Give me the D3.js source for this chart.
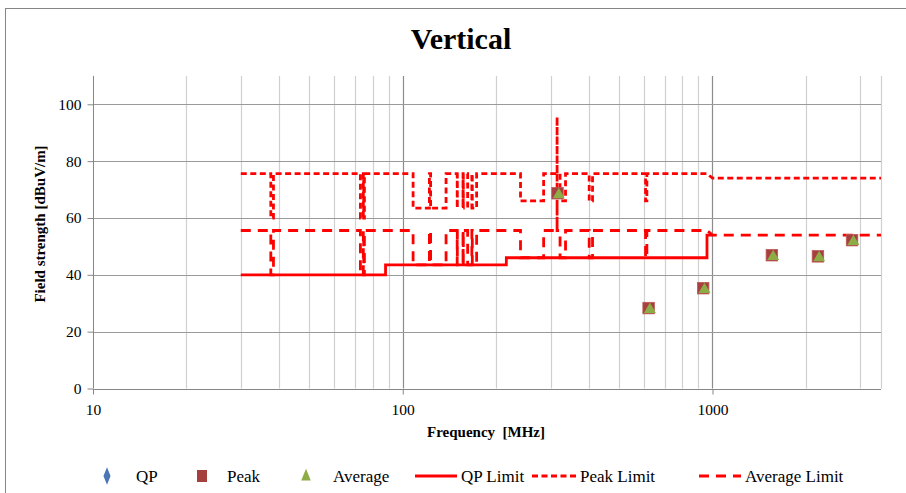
<!DOCTYPE html>
<html>
<head>
<meta charset="utf-8">
<script src="https://cdn.jsdelivr.net/npm/d3@7"></script>
<style>
  html, body { margin: 0; padding: 0; background: #fff; }
  svg { display: block; }
  text { font-family: "Liberation Serif", "Times New Roman", serif; fill: #000; }
</style>
</head>
<body>
<svg id="chart" width="906" height="493"></svg>
<script>
// Frequency axis (MHz, log) and field-strength axis (dBuV/m)
const xTickValues = [10, 100, 1000];
const xGridValues = [20, 30, 40, 50, 60, 70, 80, 90, 200, 300, 400, 500, 600, 700, 800, 900, 2000, 3000];
const yTickValues = [0, 20, 40, 60, 80, 100];

// Measured emissions
const qpFreq = [];
const qpLevel = [];
const peakFreq = [316, 622, 933, 1555, 2190, 2822];
const peakLevel = [68.7, 28.3, 35.3, 46.9, 46.5, 52.2];
const avgFreq = [319, 628, 942, 1570, 2210, 2850];
const avgLevel = [68.2, 27.8, 34.8, 46.4, 46.0, 51.7];

// Limit lines as [frequency, level] vertices
const qpLimit = [[30,40],[88,40],[88,43.5],[216,43.5],[216,46],[960,46],[960,54],[1000,54]];

const peakLimit = [
  [30,75.6],[37.5,75.6],[37.5,60],[38.25,60],[38.25,75.6],
  [73,75.6],[73,60],[74.6,60],[74.6,75.6],[74.8,75.6],[74.8,60],[75.2,60],[75.2,75.6],
  [108,75.6],[108,63.5],[121.94,63.5],[121.94,75.6],[123,75.6],[123,63.5],[138,63.5],[138,75.6],
  [149.9,75.6],[149.9,63.5],[150.05,63.5],[150.05,75.6],
  [156.52475,75.6],[156.52475,63.5],[156.52525,63.5],[156.52525,75.6],
  [156.7,75.6],[156.7,63.5],[156.9,63.5],[156.9,75.6],
  [162.0125,75.6],[162.0125,63.5],[167.17,63.5],[167.17,75.6],
  [167.72,75.6],[167.72,63.5],[173.2,63.5],[173.2,75.6],
  [240,75.6],[240,66],[285,66],[285,75.6],
  [315,75.6],[315,95.6],[315,75.6],
  [322,75.6],[322,66],[335.4,66],[335.4,75.6],
  [399.9,75.6],[399.9,66],[410,66],[410,75.6],
  [608,75.6],[608,66],[614,66],[614,75.6],
  [960,75.6],[1000,74],[3500,74]
];

const avgLimit = [
  [30,55.6],[37.5,55.6],[37.5,40],[38.25,40],[38.25,55.6],
  [73,55.6],[73,40],[74.6,40],[74.6,55.6],[74.8,55.6],[74.8,40],[75.2,40],[75.2,55.6],
  [108,55.6],[108,43.5],[121.94,43.5],[121.94,55.6],[123,55.6],[123,43.5],[138,43.5],[138,55.6],
  [149.9,55.6],[149.9,43.5],[150.05,43.5],[150.05,55.6],
  [156.52475,55.6],[156.52475,43.5],[156.52525,43.5],[156.52525,55.6],
  [156.7,55.6],[156.7,43.5],[156.9,43.5],[156.9,55.6],
  [162.0125,55.6],[162.0125,43.5],[167.17,43.5],[167.17,55.6],
  [167.72,55.6],[167.72,43.5],[173.2,43.5],[173.2,55.6],
  [240,55.6],[240,46],[285,46],[285,55.6],
  [315,55.6],[315,75.6],[315,55.6],
  [322,55.6],[322,46],[335.4,46],[335.4,55.6],
  [399.9,55.6],[399.9,46],[410,46],[410,55.6],
  [608,55.6],[608,46],[614,46],[614,55.6],
  [960,55.6],[1000,54],[3500,54]
];

const legendLabels = ["QP", "Peak", "Average", "QP Limit", "Peak Limit", "Average Limit"];

const colors = {
  qp: "#4a76b5",
  peak: "#a5403e",
  peakEdge: "#bd5a57",
  avg: "#8eac46",
  limit: "#ff0000",
  gridMajor: "#8c8c8c",
  gridMinor: "#d0d0d0",
  hgrid: "#9a9a9a",
  frame: "#868686"
};
const dashPeak = "6,3.5";
const dashAvg = "10,7";

const svg = d3.select("#chart");

// Chart frame
svg.append("rect")
  .attr("x", 5.5).attr("y", 8.5)
  .attr("width", 920).attr("height", 500)
  .attr("fill", "none").attr("stroke", colors.frame).attr("stroke-width", 1);

// Title
svg.append("text")
  .attr("x", 461).attr("y", 49)
  .attr("text-anchor", "middle")
  .style("font-size", "30px").style("font-weight", "bold")
  .text("Vertical");

const plot = { left: 93, right: 881, top: 76, bottom: 388.5 };

const x = d3.scaleLog().domain([10, 3500]).range([plot.left, plot.right]);
const y = d3.scaleLinear().domain([0, 110]).range([plot.bottom, plot.bottom - 110 * 2.842]);

// Vertical grid
const g = svg.append("g");
g.selectAll("line.vminor")
  .data(xGridValues.concat([3500]))
  .join("line")
  .attr("x1", d => Math.round(x(d)) + 0.5).attr("x2", d => Math.round(x(d)) + 0.5)
  .attr("y1", plot.top).attr("y2", plot.bottom)
  .attr("stroke", colors.gridMinor).attr("stroke-width", 1.2);

g.selectAll("line.vmajor")
  .data(xTickValues.slice(1))
  .join("line")
  .attr("x1", d => Math.round(x(d)) + 0.5).attr("x2", d => Math.round(x(d)) + 0.5)
  .attr("y1", plot.top).attr("y2", plot.bottom)
  .attr("stroke", colors.gridMajor).attr("stroke-width", 1.2);

// Horizontal grid
g.selectAll("line.h")
  .data(yTickValues.slice(1))
  .join("line")
  .attr("x1", plot.left).attr("x2", plot.right)
  .attr("y1", d => Math.round(y(d)) + 0.5).attr("y2", d => Math.round(y(d)) + 0.5)
  .attr("stroke", colors.hgrid).attr("stroke-width", 1.2);

// Axes
const yAxis = d3.axisLeft(y).tickValues(yTickValues).tickSize(6).tickPadding(6).tickFormat(d3.format("d"));
const yG = svg.append("g").attr("transform", `translate(${plot.left + 0.5},0)`).call(yAxis);
yG.select(".domain").attr("stroke", colors.frame).attr("d", `M0,${y(110)}V${plot.bottom}`);
yG.selectAll(".tick line").attr("stroke", colors.frame);
yG.selectAll(".tick text").style("font-size", "15.5px").style("font-family", "Liberation Serif");

const xAxis = d3.axisBottom(x).tickValues(xTickValues).tickSize(5).tickPadding(9).tickFormat(d3.format("d"));
const xG = svg.append("g").attr("transform", `translate(0,${Math.round(plot.bottom) + 0.5})`).call(xAxis);
xG.select(".domain").attr("stroke", colors.frame).attr("d", `M${plot.left},0H${plot.right}`);
xG.selectAll(".tick line").attr("stroke", colors.frame);
xG.selectAll(".tick text").style("font-size", "15.5px").style("font-family", "Liberation Serif");

// Axis titles
svg.append("text")
  .attr("x", 486).attr("y", 437)
  .attr("text-anchor", "middle")
  .style("font-size", "15px").style("font-weight", "bold")
  .text("Frequency\u00a0\u00a0[MHz]");

svg.append("text")
  .attr("transform", "translate(45,224) rotate(-90)")
  .attr("text-anchor", "middle")
  .style("font-size", "15px").style("font-weight", "bold")
  .text("Field strength [dBuV/m]");

// Limit lines
const line = d3.line().x(d => x(d[0])).y(d => y(d[1]));
const lines = svg.append("g").attr("fill", "none").attr("stroke", colors.limit).attr("stroke-width", 2.8);
lines.append("path").datum(qpLimit).attr("d", line);
lines.append("path").datum(peakLimit).attr("d", line).attr("stroke-dasharray", dashPeak);
lines.append("path").datum(avgLimit).attr("d", line).attr("stroke-dasharray", dashAvg);

// Markers
const sq = 11.5;
const tri = d3.symbol().type(d3.symbolTriangle).size(62);
const dia = d3.symbol().type(d3.symbolDiamond).size(50);

svg.append("g").selectAll("path")
  .data(d3.zip(qpFreq, qpLevel))
  .join("path")
  .attr("d", dia)
  .attr("transform", d => `translate(${x(d[0])},${y(d[1])})`)
  .attr("fill", colors.qp);

svg.append("g").selectAll("rect")
  .data(d3.zip(peakFreq, peakLevel))
  .join("rect")
  .attr("x", d => x(d[0]) - sq / 2).attr("y", d => y(d[1]) - sq / 2)
  .attr("width", sq).attr("height", sq)
  .attr("fill", colors.peak).attr("stroke", colors.peakEdge).attr("stroke-width", 0.8);

svg.append("g").selectAll("path")
  .data(d3.zip(avgFreq, avgLevel))
  .join("path")
  .attr("d", tri)
  .attr("transform", d => `translate(${x(d[0])},${y(d[1])})`)
  .attr("fill", colors.avg);

// Legend
const ly = 476;
const leg = svg.append("g");
const legendText = [136, 227, 333, 461, 580, 745];
leg.append("path").attr("d", d3.symbol().type(d3.symbolDiamond).size(60))
  .attr("transform", `translate(107,${ly}) scale(0.85,1.2)`).attr("fill", colors.qp);
leg.append("rect").attr("x", 197).attr("y", ly - 6).attr("width", 10).attr("height", 12).attr("fill", colors.peak);
leg.append("path").attr("d", d3.symbol().type(d3.symbolTriangle).size(55))
  .attr("transform", `translate(306,${ly + 0.5}) scale(0.85,1.2)`).attr("fill", colors.avg);
leg.append("line").attr("x1", 415).attr("x2", 457).attr("y1", ly).attr("y2", ly)
  .attr("stroke", colors.limit).attr("stroke-width", 2.8);
leg.append("line").attr("x1", 532).attr("x2", 578).attr("y1", ly).attr("y2", ly)
  .attr("stroke", colors.limit).attr("stroke-width", 2.8).attr("stroke-dasharray", dashPeak);
leg.append("line").attr("x1", 699).attr("x2", 741).attr("y1", ly).attr("y2", ly)
  .attr("stroke", colors.limit).attr("stroke-width", 2.8).attr("stroke-dasharray", dashAvg);
leg.selectAll("text")
  .data(legendLabels)
  .join("text")
  .attr("x", (d, i) => legendText[i]).attr("y", ly + 5.5)
  .style("font-size", "17px")
  .text(d => d);
</script>
</body>
</html>
